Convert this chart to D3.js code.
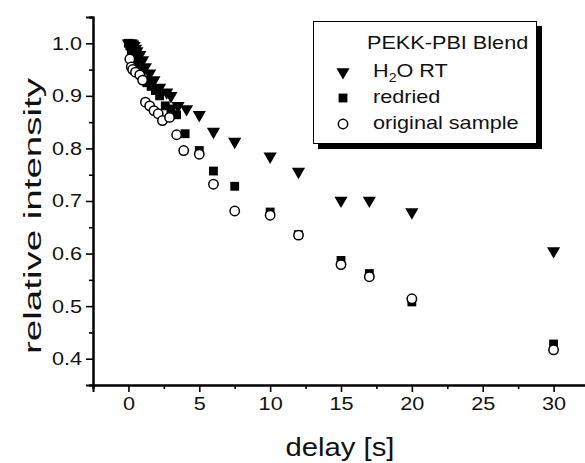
<!DOCTYPE html>
<html>
<head>
<meta charset="utf-8">
<script src="https://cdn.jsdelivr.net/npm/d3@7"></script>
<style>
  body { margin: 0; background: #fff; }
  svg { display: block; font-family: "Liberation Sans", Arial, sans-serif; }
</style>
</head>
<body>
<div id="chart"></div>
<script>
// delay [s] / relative intensity
const h2oX = [0, 0.1, 0.2, 0.3, 0.4, 0.5, 0.6, 0.8, 1.0, 1.2, 1.5, 1.8, 2.2, 2.7, 3.0, 3.5, 4.1, 5, 6, 7.5, 10, 12, 15, 17, 20, 30];
const h2oY = [1.0, 1.0, 1.0, 0.998, 0.995, 0.99, 0.985, 0.978, 0.968, 0.955, 0.943, 0.93, 0.916, 0.907, 0.9, 0.881, 0.875, 0.864, 0.832, 0.813, 0.785, 0.756, 0.701, 0.701, 0.679, 0.605];

const redX = [0, 0.1, 0.2, 0.3, 0.4, 0.5, 0.7, 0.9, 1.1, 1.3, 1.6, 1.9, 2.2, 2.6, 3.0, 3.4, 4.0, 5, 6, 7.5, 10, 12, 15, 17, 20, 30];
const redY = [1.0, 0.995, 0.985, 0.975, 0.968, 0.96, 0.95, 0.94, 0.93, 0.925, 0.918, 0.91, 0.9, 0.881, 0.875, 0.864, 0.828, 0.796, 0.757, 0.728, 0.679, 0.636, 0.587, 0.562, 0.508, 0.428];

const origX = [0.1, 0.2, 0.3, 0.5, 0.8, 1.0, 1.2, 1.5, 1.8, 2.1, 2.4, 2.9, 3.4, 3.9, 5, 6, 7.5, 10, 12, 15, 17, 20, 30];
const origY = [0.97, 0.955, 0.95, 0.945, 0.94, 0.93, 0.888, 0.881, 0.872, 0.866, 0.853, 0.859, 0.826, 0.796, 0.789, 0.732, 0.681, 0.673, 0.635, 0.579, 0.556, 0.514, 0.417];

const xTicks = [0, 5, 10, 15, 20, 25, 30];
const xMinor = [-2.5, 2.5, 7.5, 12.5, 17.5, 22.5, 27.5, 32.5];
const yTicks = [0.4, 0.5, 0.6, 0.7, 0.8, 0.9, 1.0];
const yMinor = [0.35, 0.45, 0.55, 0.65, 0.75, 0.85, 0.95, 1.05];

const legendTitle = 'PEKK-PBI Blend';
const seriesNames = ['H2O RT', 'redried', 'original sample'];

const w = 585, h = 463;
const stretch = 1.17; // the source picture is a bit wider than tall

const svg = d3.select('#chart').append('svg')
  .attr('width', w)
  .attr('height', h);

const xScale = d3.scaleLinear().domain([-2.5, 32.5]).range([93, 589]);
const yScale = d3.scaleLinear().domain([0.35, 1.05]).range([385, 17]);

const widen = sel => sel.each(function () {
  const len = this.getComputedTextLength();
  d3.select(this).attr('textLength', len * stretch).attr('lengthAdjust', 'spacingAndGlyphs');
});

// axes
const xAxis = d3.axisBottom(xScale).tickValues(xTicks).tickSize(7).tickPadding(4).tickFormat(d3.format('d'));
const xAxisMinor = d3.axisBottom(xScale).tickValues(xMinor).tickSize(4).tickFormat('');
const yAxis = d3.axisLeft(yScale).tickValues(yTicks).tickSize(7).tickPadding(4).tickFormat(d3.format('.1f'));
const yAxisMinor = d3.axisLeft(yScale).tickValues(yMinor).tickSize(4).tickFormat('');

const gx = svg.append('g').attr('transform', `translate(0,${yScale(0.35)})`);
gx.append('g').call(xAxisMinor);
gx.append('g').attr('class', 'major').call(xAxis);

const gy = svg.append('g').attr('transform', `translate(${xScale(-2.5)},0)`);
gy.append('g').call(yAxisMinor);
gy.append('g').attr('class', 'major').call(yAxis);

svg.selectAll('.domain').attr('stroke', '#000').attr('stroke-width', 2);
svg.selectAll('.tick line').attr('stroke', '#000').attr('stroke-width', 1.6);
svg.selectAll('.tick text')
  .attr('font-family', '"Liberation Sans", Arial, sans-serif')
  .attr('font-size', 18.5)
  .attr('fill', '#111');
gx.selectAll('.tick text').attr('dy', '0.78em');
widen(svg.selectAll('.major .tick text'));

// axis titles
svg.append('text')
  .attr('text-anchor', 'middle')
  .attr('x', 340)
  .attr('y', 456)
  .attr('font-size', 25)
  .attr('fill', '#111')
  .text('delay [s]')
  .call(widen);

svg.append('text')
  .attr('text-anchor', 'middle')
  .attr('transform', `translate(41,${216})rotate(-90)`)
  .attr('font-size', 23.5)
  .attr('fill', '#111')
  .attr('textLength', 276)
  .attr('lengthAdjust', 'spacingAndGlyphs')
  .text('relative intensity');

// markers
const tri = d3.symbol(d3.symbolTriangle).size(75);
const sq = d3.symbol(d3.symbolSquare).size(78);

svg.append('g').selectAll('path')
  .data(redX.map((x, i) => [x, redY[i]]))
  .enter().append('path')
  .attr('d', sq)
  .attr('transform', d => `translate(${xScale(d[0])},${yScale(d[1])})`)
  .attr('fill', '#000');

svg.append('g').selectAll('path')
  .data(h2oX.map((x, i) => [x, h2oY[i]]))
  .enter().append('path')
  .attr('d', tri)
  .attr('transform', d => `translate(${xScale(d[0])},${yScale(d[1])})rotate(180)`)
  .attr('fill', '#000');

svg.append('g').selectAll('circle')
  .data(origX.map((x, i) => [x, origY[i]]))
  .enter().append('circle')
  .attr('cx', d => xScale(d[0]))
  .attr('cy', d => yScale(d[1]))
  .attr('r', 4.7)
  .attr('fill', '#fff')
  .attr('stroke', '#000')
  .attr('stroke-width', 1.5);

// legend
const lg = svg.append('g');
lg.append('rect').attr('x', 318).attr('y', 26).attr('width', 224).attr('height', 123).attr('fill', '#000');
lg.append('rect').attr('x', 313.5).attr('y', 21.5).attr('width', 223).attr('height', 122)
  .attr('fill', '#fff').attr('stroke', '#000').attr('stroke-width', 1);

lg.append('text').attr('x', 367).attr('y', 49).attr('font-size', 18.5).attr('fill', '#111')
  .text(legendTitle).call(widen);

const rowY = [77, 103, 129];
const symY = [72, 98, 124];
lg.append('path').attr('d', tri).attr('transform', `translate(343,${symY[0]})rotate(180)`).attr('fill', '#000');
lg.append('path').attr('d', sq).attr('transform', `translate(343,${symY[1]})`).attr('fill', '#000');
lg.append('circle').attr('cx', 343).attr('cy', symY[2]).attr('r', 4.7)
  .attr('fill', '#fff').attr('stroke', '#000').attr('stroke-width', 1.5);

const h2oLabel = lg.append('text').attr('x', 373).attr('y', rowY[0]).attr('font-size', 18.5).attr('fill', '#111');
h2oLabel.append('tspan').text('H');
h2oLabel.append('tspan').attr('font-size', 12).attr('dy', 5).text('2');
h2oLabel.append('tspan').attr('dy', -5).text('O RT');
h2oLabel.call(widen);

lg.append('text').attr('x', 373).attr('y', rowY[1]).attr('font-size', 18.5).attr('fill', '#111')
  .text(seriesNames[1]).call(widen);
lg.append('text').attr('x', 373).attr('y', rowY[2]).attr('font-size', 18.5).attr('fill', '#111')
  .text(seriesNames[2]).call(widen);
</script>
</body>
</html>
